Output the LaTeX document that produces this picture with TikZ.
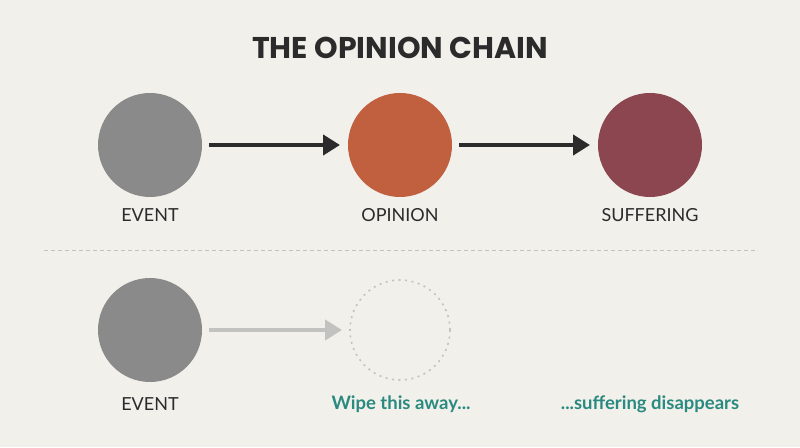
\documentclass[tikz,border=0pt]{standalone}
\usepackage{fontspec}
\setmainfont{Lato}
\newfontfamily\headfont{Poppins}
\usetikzlibrary{arrows.meta}

\definecolor{paperbg}{HTML}{F2F0EB}
\definecolor{inkdark}{HTML}{2B2B2B}
\definecolor{eventgray}{HTML}{8A8A8A}
\definecolor{opinionred}{HTML}{C0603F}
\definecolor{sufferwine}{HTML}{8B4650}
\definecolor{fadegray}{HTML}{C2C2C0}
\definecolor{wipeteal}{HTML}{2A8A80}

\tikzset{
  dot/.style={circle, inner sep=0pt, outer sep=0pt, minimum size=104pt},
  lbl/.style={font=\fontsize{18}{21}\selectfont, text=inkdark},
  note/.style={font=\fontsize{18.5}{22}\selectfont\bfseries, text=wipeteal},
  link/.style={line width=4.5pt, draw=inkdark, shorten <=7pt, shorten >=8pt,
    -{Triangle[length=17pt,width=20pt]}}
}

\begin{document}
\begin{tikzpicture}[x=1pt,y=1pt]
\fill[paperbg] (0,0) rectangle (800,447);
\node[font=\headfont\fontsize{30}{34}\selectfont\bfseries, text=inkdark] (title) at (400,399) {THE OPINION CHAIN};
% top chain
\node[dot, fill=eventgray] (event) at (150,302) {};
\node[dot, fill=opinionred] (opinion) at (400,302) {};
\node[dot, fill=sufferwine] (suffer) at (650,302) {};
\draw[link] (event) -- (opinion);
\draw[link] (opinion) -- (suffer);
\node[lbl] (eventlbl) at (150,232) {EVENT};
\node[lbl] (opinionlbl) at (400,232) {OPINION};
\node[lbl] (sufferlbl) at (650,232) {SUFFERING};
% divider
\draw[fadegray, line width=1pt, dash pattern=on 4pt off 3pt] (44,196) -- (758,196);
% bottom chain
\node[dot, fill=eventgray] (event2) at (150,117) {};
\node[dot, minimum size=100pt, draw=fadegray, line width=1.6pt, dash pattern=on 2pt off 4.5pt] (gone) at (400,117) {};
\draw[link, draw=fadegray] (event2) -- (gone);
\node[lbl] (event2lbl) at (150,43) {EVENT};
\node[note] (wipe) at (401,43) {Wipe this away...};
\node[note] (vanish) at (650,43) {...suffering disappears};
\end{tikzpicture}
\end{document}
